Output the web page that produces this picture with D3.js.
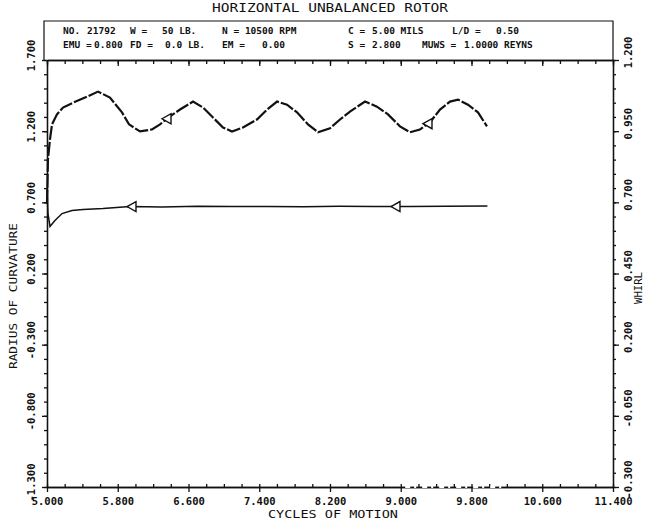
<!DOCTYPE html>
<html>
<head>
<meta charset="utf-8">
<script src="https://cdn.jsdelivr.net/npm/d3@7"></script>
<style>
  body { margin: 0; background: #fff; }
  text { font-family: "DejaVu Sans Mono", "Liberation Mono", monospace; fill: #111; font-weight: bold; }
  .axis path, .axis line { stroke: #111; stroke-width: 1.3; }
</style>
</head>
<body>
<div id="chart"></div>
<script>
// tick values
var cycleTicks = [5.0, 5.8, 6.6, 7.4, 8.2, 9.0, 9.8, 10.6, 11.4];
var radiusTicks = [1.7, 1.2, 0.7, 0.2, -0.3, -0.8, -1.3];
var whirlTicks = [1.2, 0.95, 0.7, 0.45, 0.2, -0.05, -0.3];

// WHIRL (right axis) - upper curve
var whirlCycles = [5.000, 5.011, 5.034, 5.057, 5.113, 5.181, 5.294, 5.452, 5.577, 5.712,
  5.848, 5.927, 6.052, 6.187, 6.278, 6.391, 6.504, 6.651, 6.764, 6.877,
  6.990, 7.092, 7.216, 7.374, 7.488, 7.601, 7.714, 7.827, 7.951, 8.064,
  8.200, 8.313, 8.426, 8.596, 8.731, 8.856, 8.991, 9.104, 9.217, 9.330,
  9.444, 9.557, 9.647, 9.760, 9.873, 9.975];
var whirlValues = [0.695, 0.852, 0.922, 0.974, 1.009, 1.033, 1.050, 1.071, 1.089, 1.068,
  1.016, 0.974, 0.949, 0.956, 0.974, 1.002, 1.026, 1.054, 1.033, 0.998,
  0.963, 0.949, 0.963, 0.991, 1.026, 1.054, 1.043, 1.016, 0.974, 0.946,
  0.960, 0.991, 1.019, 1.054, 1.036, 1.009, 0.967, 0.946, 0.956, 0.981,
  1.026, 1.054, 1.061, 1.043, 1.016, 0.967];

// RADIUS OF CURVATURE (left axis) - lower curve
var radiusCycles = [5.000, 5.011, 5.034, 5.090, 5.170, 5.283, 5.407, 5.633, 5.939, 6.300,
  6.700, 7.100, 7.500, 7.900, 8.300, 8.700, 9.100, 9.500, 9.980];
var radiusValues = [0.795, 0.621, 0.531, 0.573, 0.621, 0.642, 0.649, 0.656, 0.670, 0.668,
  0.672, 0.670, 0.671, 0.669, 0.672, 0.670, 0.671, 0.673, 0.675];

var whirlArrowCycles = [6.357, 9.308];
var radiusArrowCycles = [5.961, 8.946];

var headerRow1 = ["NO.", "21792", "W =", "50 LB.", "N = 10500 RPM", "C =", "5.00 MILS", "L/D =", "0.50"];
var headerRow2 = ["EMU =", "0.800", "FD =", "0.0 LB.", "EM =", "0.00", "S =", "2.800", "MUWS =", "1.0000 REYNS"];
var headerX1 = [63, 87, 130, 162, 222, 348, 372, 452, 496];
var headerX2 = [63, 94, 130, 165, 222, 262, 348, 372, 422, 464];

var margin = {top: 60, right: 33, bottom: 34, left: 47},
  width = 646 - margin.left - margin.right,
  height = 521 - margin.top - margin.bottom;

var svg = d3.select("#chart").append("svg")
  .attr("width", 646)
  .attr("height", 521)
  .append("g")
  .attr("transform", "translate(" + margin.left + "," + margin.top + ")");

var x = d3.scaleLinear().domain([5.0, 11.4]).range([0, width]);
var yLeft = d3.scaleLinear().domain([-1.3, 1.7]).range([height, 0]);
var yRight = d3.scaleLinear().domain([-0.3, 1.2]).range([height, 0]);

var fmt = function(d) { return d.toFixed(3); };

// title and header box
svg.append("text")
  .attr("x", width / 2).attr("y", -48)
  .attr("text-anchor", "middle")
  .attr("textLength", 236).attr("lengthAdjust", "spacingAndGlyphs")
  .style("font-size", "12px").style("font-weight", "normal")
  .text("HORIZONTAL UNBALANCED ROTOR");

svg.append("path")
  .attr("d", "M-3,0V-39H" + width + "V0")
  .attr("fill", "none").attr("stroke", "#111").attr("stroke-width", 1.2);

headerRow1.forEach(function(s, i) {
  svg.append("text").attr("x", headerX1[i] - margin.left).attr("y", -26)
    .style("font-size", "9.5px").text(s);
});
headerRow2.forEach(function(s, i) {
  svg.append("text").attr("x", headerX2[i] - margin.left).attr("y", -12)
    .style("font-size", "9.5px").text(s);
});

// axes
var xMinor = d3.range(5.0, 11.41, 0.2);
var leftMinor = d3.range(-1.3, 1.71, 0.1);
var rightMinor = d3.range(-0.3, 1.21, 0.05);

svg.append("g").attr("class", "axis")
  .call(d3.axisTop(x).tickValues(xMinor).tickSize(-4).tickSizeOuter(0).tickFormat(""));
svg.append("g").attr("class", "axis")
  .call(d3.axisTop(x).tickValues(cycleTicks).tickSize(-6).tickSizeOuter(0).tickFormat(""));

svg.append("g").attr("class", "axis")
  .attr("transform", "translate(0," + height + ")")
  .call(d3.axisBottom(x).tickValues(xMinor).tickSize(-3).tickSizeOuter(0).tickFormat(""));
var gx = svg.append("g").attr("class", "axis")
  .attr("transform", "translate(0," + height + ")")
  .call(d3.axisBottom(x).tickValues(cycleTicks).tickSize(5).tickSizeOuter(0).tickFormat(fmt));
gx.selectAll("text").attr("dy", null).attr("y", 18).style("font-size", "10.5px");

// broken stretch of the bottom line, like the plotted original
svg.append("line")
  .attr("x1", x(9.05)).attr("x2", x(10.2))
  .attr("y1", height).attr("y2", height)
  .attr("stroke", "#fff").attr("stroke-width", 2)
  .attr("stroke-dasharray", "5,4,2,6");

svg.append("text")
  .attr("x", width / 2 + 3).attr("y", height + 31)
  .attr("text-anchor", "middle")
  .attr("textLength", 130).attr("lengthAdjust", "spacingAndGlyphs")
  .style("font-size", "11px").style("font-weight", "normal")
  .text("CYCLES OF MOTION");

svg.append("g").attr("class", "axis")
  .call(d3.axisLeft(yLeft).tickValues(leftMinor).tickSize(3).tickSizeOuter(0).tickFormat(""));
var gl = svg.append("g").attr("class", "axis")
  .call(d3.axisLeft(yLeft).tickValues(radiusTicks).tickSize(5).tickSizeOuter(0).tickFormat(fmt));
gl.selectAll("text")
  .attr("transform", "rotate(-90)")
  .attr("x", 5).attr("y", -12.5).attr("dy", null)
  .attr("text-anchor", "middle")
  .style("font-size", "10.5px");

svg.append("g").attr("class", "axis")
  .attr("transform", "translate(" + width + ",0)")
  .call(d3.axisRight(yRight).tickValues(rightMinor).tickSize(3).tickSizeOuter(0).tickFormat(""));
var gr = svg.append("g").attr("class", "axis")
  .attr("transform", "translate(" + width + ",0)")
  .call(d3.axisRight(yRight).tickValues(whirlTicks).tickSize(6).tickSizeOuter(0).tickFormat(fmt));
gr.selectAll("text")
  .attr("transform", "rotate(-90)")
  .attr("x", 8).attr("y", 19).attr("dy", null)
  .attr("text-anchor", "middle")
  .style("font-size", "10.5px");

svg.append("text")
  .attr("transform", "translate(" + (17 - margin.left) + ",236) rotate(-90)")
  .attr("text-anchor", "middle")
  .attr("textLength", 146).attr("lengthAdjust", "spacingAndGlyphs")
  .style("font-size", "11px").style("font-weight", "normal")
  .text("RADIUS OF CURVATURE");

svg.append("text")
  .attr("transform", "translate(" + (width + 29) + ",228) rotate(-90)")
  .attr("text-anchor", "middle")
  .attr("textLength", 32).attr("lengthAdjust", "spacingAndGlyphs")
  .style("font-size", "10px").style("font-weight", "normal")
  .text("WHIRL");

// curves
var whirlLine = d3.line()
  .x(function(d, i) { return x(whirlCycles[i]); })
  .y(function(d) { return yRight(d); });
svg.append("path")
  .datum(whirlValues)
  .attr("fill", "none").attr("stroke", "#111")
  .attr("stroke-width", 2.2)
  .attr("stroke-dasharray", "14,2")
  .attr("d", whirlLine);

var radiusLine = d3.line()
  .x(function(d, i) { return x(radiusCycles[i]); })
  .y(function(d) { return yLeft(d); });
svg.append("path")
  .datum(radiusValues)
  .attr("fill", "none").attr("stroke", "#111")
  .attr("stroke-width", 1.5)
  .attr("d", radiusLine);

// direction arrows
function valueAt(cycles, values, c) {
  var i = d3.bisectLeft(cycles, c);
  if (i <= 0) return values[0];
  var t = (c - cycles[i - 1]) / (cycles[i] - cycles[i - 1]);
  return values[i - 1] + t * (values[i] - values[i - 1]);
}

function drawArrow(px, py) {
  svg.append("path")
    .attr("d", "M" + (px - 5) + "," + py + "L" + (px + 4) + "," + (py - 5) +
      "L" + (px + 4) + "," + (py + 5) + "Z")
    .attr("fill", "#fff").attr("stroke", "#111").attr("stroke-width", 1.4);
}

whirlArrowCycles.forEach(function(c) {
  drawArrow(x(c), yRight(valueAt(whirlCycles, whirlValues, c)));
});
radiusArrowCycles.forEach(function(c) {
  drawArrow(x(c), yLeft(valueAt(radiusCycles, radiusValues, c)));
});
</script>
</body>
</html>
